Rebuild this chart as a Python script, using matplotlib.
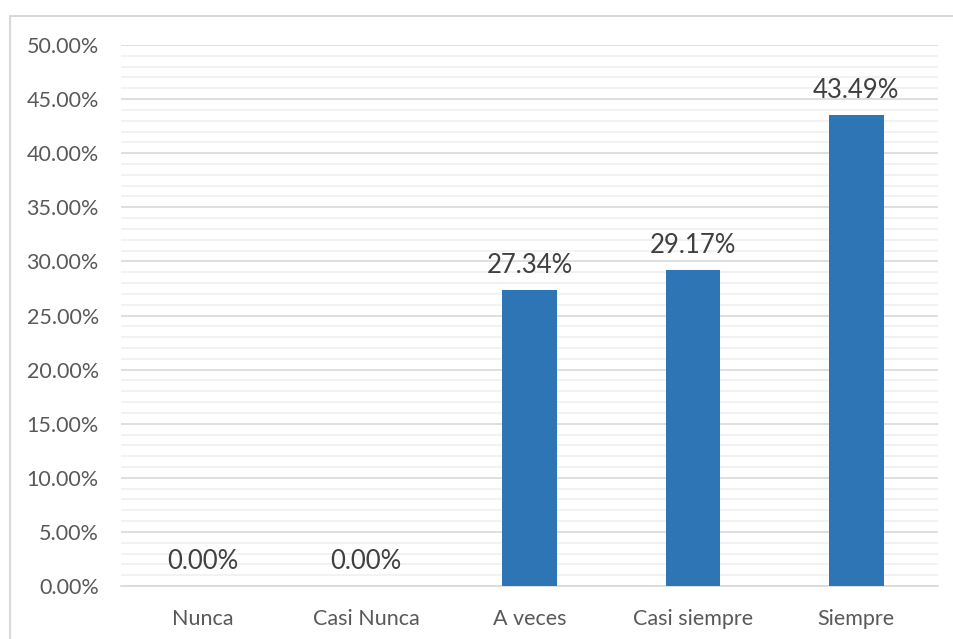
import matplotlib
matplotlib.use("Agg")
import matplotlib.pyplot as plt
from matplotlib.patches import Rectangle
from matplotlib.ticker import MultipleLocator, FuncFormatter

categories = ["Nunca", "Casi Nunca", "A veces", "Casi siempre", "Siempre"]
values = [0.00, 0.00, 27.34, 29.17, 43.49]

plt.rcParams["font.family"] = ["Lato", "DejaVu Sans"]

W, H = 954, 639
fig = plt.figure(figsize=(W / 100, H / 100), dpi=100)

# outer chart frame (light gray), running off the right and bottom edges
fig.patches.append(Rectangle((10 / W, -0.05), 1.2, 1 - 16 / H + 0.05,
                             transform=fig.transFigure, fill=False,
                             edgecolor="#D9D9D9", linewidth=1.5))

left, right = 121 / W, 938 / W
bottom, top = 1 - 586 / H, 1 - 45 / H
ax = fig.add_axes([left, bottom, right - left, top - bottom])

x = range(len(categories))
ax.bar(x, values, width=0.335, color="#2E75B6", zorder=3)

for xi, v in zip(x, values):
    ax.text(xi, v + 1.15, f"{v:.2f}%", ha="center", va="bottom",
            fontsize=18.5, color="#404040", zorder=4)

ax.set_xlim(-0.5, len(categories) - 0.5)
ax.set_ylim(0, 50)
ax.yaxis.set_major_locator(MultipleLocator(5))
ax.yaxis.set_minor_locator(MultipleLocator(1))
ax.yaxis.set_major_formatter(FuncFormatter(lambda v, p: f"{v:.2f}%"))
ax.grid(axis="y", which="major", color="#D9D9D9", linewidth=1.2, zorder=0)
ax.grid(axis="y", which="minor", color="#F0F0F0", linewidth=1.2, zorder=0)
ax.set_xticks(list(x))
ax.set_xticklabels(categories)

for s in ("top", "right", "left"):
    ax.spines[s].set_visible(False)
ax.spines["bottom"].set_color("#D9D9D9")
ax.spines["bottom"].set_linewidth(1.2)
ax.tick_params(axis="both", which="both", length=0)
ax.tick_params(axis="y", pad=16, labelsize=15.5, labelcolor="#595959")
ax.tick_params(axis="x", pad=16.5, labelsize=15.5, labelcolor="#595959")

fig.savefig("out.png", dpi=100)
